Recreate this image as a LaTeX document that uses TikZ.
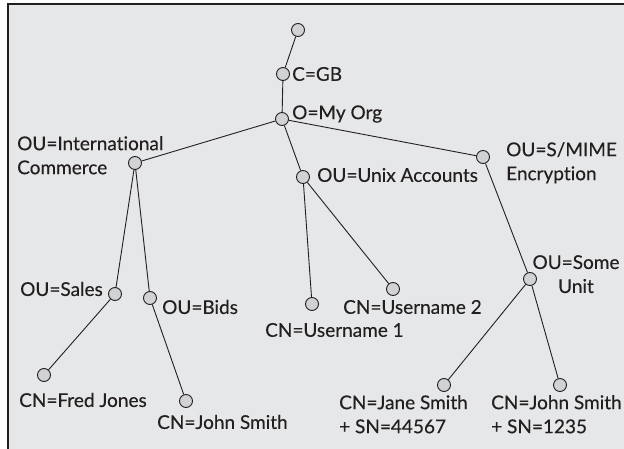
\documentclass[tikz,border=0pt]{standalone}
\usepackage{fontspec}
\setmainfont{Lato}[Ligatures=NoCommon,FakeBold=0.3]
\definecolor{bg}{HTML}{E6E7E8}
\definecolor{nodefill}{HTML}{D1D2D4}
\definecolor{ink}{HTML}{231F20}
\begin{document}
\begin{tikzpicture}[x=1pt,y=-1pt,
  dot/.style={circle,draw=ink,fill=nodefill,line width=0.9pt,minimum size=13pt,inner sep=0pt},
  lbl/.style={font=\fontsize{19}{24}\selectfont,text=ink,inner sep=0pt,align=left},
  edge/.style={draw=ink,line width=0.9pt}]
\useasboundingbox (0,0) rectangle (624,449);
\fill[bg] (8,4) rectangle (624,449);
\draw[ink,line width=1.5pt] (8,449) -- (8,4) -- (624,4);
% nodes
\node[dot] (root) at (298,30) {};
\node[dot] (c) at (283,74) {};
\node[dot] (o) at (282,119) {};
\node[dot] (intl) at (135,163) {};
\node[dot] (unix) at (303,177) {};
\node[dot] (smime) at (483,157) {};
\node[dot] (sales) at (115,294) {};
\node[dot] (bids) at (150,298) {};
\node[dot] (fred) at (44,375) {};
\node[dot] (john1) at (186,401) {};
\node[dot] (u1) at (312,304) {};
\node[dot] (u2) at (393,289) {};
\node[dot] (some) at (530,279) {};
\node[dot] (jane) at (444,385) {};
\node[dot] (john2) at (560,385) {};
% edges
\path[edge] (root) -- (c);
\path[edge] (c) -- (o);
\path[edge] (o) -- (intl);
\path[edge] (o) -- (unix);
\path[edge] (o) -- (smime);
\path[edge] (intl) -- (sales);
\path[edge] (intl) -- (bids);
\path[edge] (sales) -- (fred);
\path[edge] (bids) -- (john1);
\path[edge] (unix) -- (u1);
\path[edge] (unix) -- (u2);
\path[edge] (smime) -- (some);
\path[edge] (some) -- (jane);
\path[edge] (some) -- (john2);
% labels
\node[lbl,anchor=west] (lc) at (292,74) {C=GB};
\node[lbl,anchor=west] (lo) at (292,114) {O=My Org};
\node[lbl,anchor=north west] (lintl) at (17,136) {OU=International\\Commerce};
\node[lbl,anchor=west] (lunix) at (317,175) {OU=Unix Accounts};
\node[lbl,anchor=north west] (lsmime) at (506,142) {OU=S/MIME\\Encryption};
\node[lbl,anchor=west] (lsales) at (20,289) {OU=Sales};
\node[lbl,anchor=west] (lbids) at (162,307) {OU=Bids};
\node[lbl,anchor=west] (lfred) at (19,400) {CN=Fred Jones};
\node[lbl,anchor=west] (ljohn1) at (157,422) {CN=John Smith};
\node[lbl,anchor=west] (lu1) at (265,330) {CN=Username 1};
\node[lbl,anchor=west] (lu2) at (343,307) {CN=Username 2};
\node[lbl,anchor=north,align=center] (lsome) at (576,255) {OU=Some\\Unit};
\node[lbl,anchor=north west] (ljane) at (339,395) {CN=Jane Smith\\+ SN=44567};
\node[lbl,anchor=north west] (ljohn2) at (491,395) {CN=John Smith\\+ SN=1235};
\end{tikzpicture}
\end{document}
